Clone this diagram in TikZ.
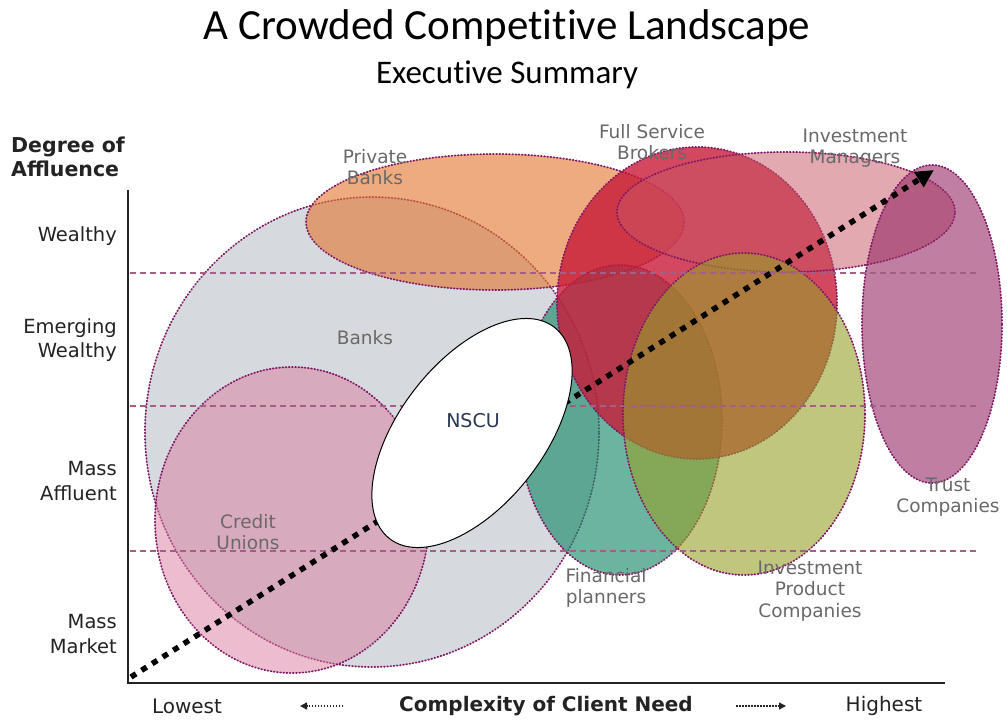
\documentclass[tikz,border=0pt]{standalone}
\usepackage{fontspec}
\setmainfont{DejaVu Sans}
\newfontfamily\titlefont[Ligatures=NoCommon]{Carlito}
\usetikzlibrary{shapes.geometric,arrows.meta}
\definecolor{outline}{RGB}{130,25,100}
\definecolor{gridc}{RGB}{165,95,135}
\definecolor{lbl}{RGB}{105,105,105}
\definecolor{axisc}{RGB}{35,35,35}
\definecolor{cbanks}{RGB}{214,217,221}
\definecolor{ccredit}{RGB}{218,125,160}
\definecolor{cprivate}{RGB}{228,120,50}
\definecolor{cfull}{RGB}{200,25,55}
\definecolor{cinvman}{RGB}{200,85,100}
\definecolor{ctrust}{RGB}{150,40,100}
\definecolor{cprod}{RGB}{150,160,40}
\definecolor{cfin}{RGB}{30,140,110}
\definecolor{cnscu}{RGB}{40,55,85}
\tikzset{
  region/.style={ellipse, inner sep=0pt, outer sep=0pt, draw=outline,
    line width=1.8pt, dash pattern=on 0.8pt off 2.4pt, line cap=round},
  gridline/.style={draw=gridc, line width=1.2pt, dash pattern=on 6pt off 4pt},
  axisline/.style={draw=axisc, line width=2pt},
  rlabel/.style={text=lbl, align=center, font=\fontsize{18.5}{21.5}\selectfont, inner sep=0pt},
  ylabel/.style={text=axisc, align=right, anchor=east, font=\fontsize{19.5}{24.5}\selectfont, inner sep=0pt},
  xlabel/.style={text=axisc, font=\fontsize{20}{24}\selectfont, inner sep=0pt},
  bigarrow/.style={line width=5.5pt, dash pattern=on 6pt off 6.5pt, black,
    -{Triangle[length=18pt,width=17pt]}},
  smallarrow/.style={line width=1.4pt, dash pattern=on 1.5pt off 1.5pt, axisc,
    -{Triangle[length=7pt,width=7pt]}}
}
\begin{document}
\begin{tikzpicture}[x=1pt,y=-1pt]
\useasboundingbox[fill=white] (0,0) rectangle (1007,721);
% titles
\node[anchor=base, font=\titlefont\fontsize{43}{48}\selectfont, inner sep=0pt] (title) at (507,39) {A Crowded Competitive Landscape};
\node[anchor=base, font=\titlefont\fontsize{33}{38}\selectfont, inner sep=0pt] (subtitle) at (507,83) {Executive Summary};
% regions
\node[region, fill=cbanks, minimum width=454pt, minimum height=470pt] (banks) at (372,432) {};
\node[region, fill=ccredit, fill opacity=0.5, minimum width=274pt, minimum height=306pt] (credit) at (292,520) {};
\node[region, fill=cprivate, fill opacity=0.62, minimum width=378pt, minimum height=136pt] (private) at (495,222) {};
\node[region, fill=cfin, fill opacity=0.65, minimum width=204pt, minimum height=310pt] (fin) at (620,420) {};
\node[region, fill=cfull, fill opacity=0.8, minimum width=280pt, minimum height=312pt] (full) at (697,303) {};
\node[region, fill=cinvman, fill opacity=0.5, minimum width=338pt, minimum height=120pt] (invman) at (786,212) {};
\node[region, fill=cprod, fill opacity=0.6, minimum width=242pt, minimum height=322pt] (prod) at (744,414) {};
\node[region, fill=ctrust, fill opacity=0.6, minimum width=140pt, minimum height=318pt] (trust) at (932,324) {};
% grid lines
\coordinate (g1a) at (130,273); \coordinate (g1b) at (977,273);
\coordinate (g2a) at (130,406); \coordinate (g2b) at (977,406);
\coordinate (g3a) at (130,551); \coordinate (g3b) at (977,551);
\draw[gridline] (g1a) -- (g1b);
\draw[gridline] (g2a) -- (g2b);
\draw[gridline] (g3a) -- (g3b);
% axes
\coordinate (ytop) at (128,190); \coordinate (origin) at (128,683); \coordinate (xend) at (945,683);
\draw[axisline] (ytop) -- (origin) -- (xend);
% big arrow
\coordinate (arrS) at (131,677); \coordinate (arrE) at (934,170);
\draw[bigarrow] (arrS) -- (arrE);
% NSCU
\node[ellipse, draw=black, line width=1pt, fill=white, inner sep=0pt, minimum width=268pt, minimum height=144pt, rotate=52] (nscu) at (472,433) {};
\node[text=cnscu, font=\fontsize{19}{22}\selectfont, inner sep=0pt] (nscut) at (473,421) {NSCU};
% region labels
\node[rlabel] (lprivate) at (375,167) {Private\\Banks};
\node[rlabel] (lfull) at (652,142) {Full Service\\Brokers};
\node[rlabel] (linvman) at (855,148) {Investment\\Managers};
\node[rlabel] (lbanks) at (365,338) {Banks};
\node[rlabel] (lcredit) at (248,532) {Credit\\Unions};
\node[rlabel] (ltrust) at (948,497) {Trust\\Companies};
\node[rlabel] (lfin) at (606,588) {Financial\\planners};
\node[rlabel] (lprod) at (810,591) {Investment\\Product\\Companies};
% y axis labels
\node[text=axisc, align=left, anchor=west, inner sep=0pt, font=\bfseries\fontsize{20.5}{23.5}\selectfont] (ytitle) at (11,157) {Degree of\\Affluence};
\node[ylabel] (ywealthy) at (117,236) {Wealthy};
\node[ylabel] (yemerging) at (117,340) {Emerging\\Wealthy};
\node[ylabel] (yaffluent) at (117,481) {Mass\\Affluent};
\node[ylabel] (ymarket) at (117,634) {Mass\\Market};
% x axis labels
\node[xlabel] (xlow) at (187,706) {Lowest};
\node[xlabel, font=\bfseries\fontsize{20}{24}\selectfont] (xtitle) at (546,706) {Complexity of Client Need};
\node[xlabel] (xhigh) at (884,706) {Highest};
\coordinate (la1) at (343,706); \coordinate (la2) at (300,706);
\coordinate (ra1) at (736,706); \coordinate (ra2) at (786,706);
\draw[smallarrow] (la1) -- (la2);
\draw[smallarrow] (ra1) -- (ra2);
\end{tikzpicture}
\end{document}
